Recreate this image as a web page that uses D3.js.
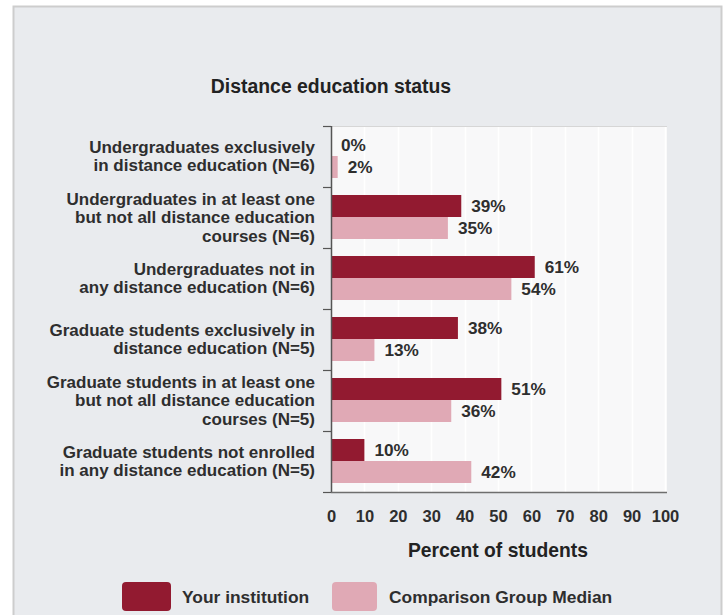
<!DOCTYPE html>
<html>
<head>
<meta charset="utf-8">
<script src="https://cdn.jsdelivr.net/npm/d3@7"></script>
<style>
  html, body { margin: 0; padding: 0; background: #ffffff; }
  svg { display: block; font-family: "Liberation Sans", Arial, sans-serif; }
</style>
</head>
<body>
<svg id="chart" width="726" height="615"></svg>
<script>
// ---- data ----
const categories = [
  "Undergraduates exclusively|in distance education (N=6)",
  "Undergraduates in at least one|but not all distance education|courses (N=6)",
  "Undergraduates not in|any distance education (N=6)",
  "Graduate students exclusively in|distance education (N=5)",
  "Graduate students in at least one|but not all distance education|courses (N=5)",
  "Graduate students not enrolled|in any distance education (N=5)"
];
const yourInstitution = [0, 39, 61, 38, 51, 10];
const comparisonMedian = [2, 35, 54, 13, 36, 42];
const seriesNames = ["Your institution", "Comparison Group Median"];
const xTicks = [0, 10, 20, 30, 40, 50, 60, 70, 80, 90, 100];
const chartTitle = "Distance education status";
const xAxisTitle = "Percent of students";

// ---- styles ----
const darkColor = "#921a30";
const lightColor = "#e0a9b5";
const textColor = "#2e2e2e";

const svg = d3.select("#chart");

// panel
svg.append("rect")
  .attr("x", 13.5).attr("y", 6.5).attr("width", 708).attr("height", 640)
  .attr("fill", "#e9ebee").attr("stroke", "#cdcdcd").attr("stroke-width", 2);

const plot = { left: 331, right: 665, top: 126, bottom: 492 };

const x = d3.scaleLinear().domain([0, 100]).range([plot.left, plot.right]);
const y = d3.scaleBand().domain(d3.range(categories.length)).range([plot.top, plot.bottom]).padding(0);
const inner = d3.scaleBand().domain([0, 1]).range([8, y.bandwidth() - 9]).padding(0);

// plot background
svg.append("rect")
  .attr("x", plot.left).attr("y", plot.top)
  .attr("width", plot.right - plot.left + 2).attr("height", plot.bottom - plot.top)
  .attr("fill", "#f8f8f9");
svg.append("line")
  .attr("x1", plot.left).attr("x2", plot.right + 2)
  .attr("y1", plot.top + 0.5).attr("y2", plot.top + 0.5)
  .attr("stroke", "#d6d6d6");

// faint gridlines
svg.append("g").selectAll("line").data(xTicks.slice(1)).join("line")
  .attr("x1", d => Math.round(x(d)) + 0.5).attr("x2", d => Math.round(x(d)) + 0.5)
  .attr("y1", plot.top + 1).attr("y2", plot.bottom)
  .attr("stroke", "#ffffff").attr("stroke-width", 1.5);

// title
svg.append("text")
  .attr("x", 331).attr("y", 86)
  .attr("text-anchor", "middle").attr("dominant-baseline", "central")
  .attr("font-size", 19.4).attr("font-weight", "bold").attr("fill", "#222")
  .text(chartTitle);

// bars
const series = [yourInstitution, comparisonMedian];
const colors = [darkColor, lightColor];
series.forEach((vals, si) => {
  const g = svg.append("g");
  g.selectAll("rect").data(vals).join("rect")
    .attr("x", x(0))
    .attr("y", (d, i) => y(i) + inner(si))
    .attr("width", d => x(d) - x(0))
    .attr("height", inner.bandwidth())
    .attr("fill", colors[si]);
  g.selectAll("text").data(vals).join("text")
    .attr("x", d => x(d) + 10)
    .attr("y", (d, i) => y(i) + inner(si) + inner.bandwidth() / 2)
    .attr("dominant-baseline", "central")
    .attr("font-size", 17.2).attr("font-weight", "bold").attr("fill", textColor)
    .text(d => d + "%");
});

// left axis
const yAxisG = svg.append("g");
yAxisG.append("line")
  .attr("x1", plot.left + 0.5).attr("x2", plot.left + 0.5)
  .attr("y1", plot.top).attr("y2", plot.bottom)
  .attr("stroke", "#555").attr("stroke-width", 1.5);
yAxisG.selectAll("line.tick").data(d3.range(categories.length + 1)).join("line")
  .attr("class", "tick")
  .attr("x1", plot.left - 8).attr("x2", plot.left)
  .attr("y1", d => (d < categories.length ? y(d) : plot.bottom) + 0.5)
  .attr("y2", d => (d < categories.length ? y(d) : plot.bottom) + 0.5)
  .attr("stroke", "#555").attr("stroke-width", 1.2);

// category labels
const lineH = 18.5;
categories.forEach((c, i) => {
  const lines = c.split("|");
  const cy = y(i) + y.bandwidth() / 2;
  const t = svg.append("text")
    .attr("text-anchor", "end")
    .attr("font-size", 17).attr("font-weight", "bold").attr("fill", textColor);
  lines.forEach((ln, k) => {
    t.append("tspan")
      .attr("x", 315)
      .attr("y", cy + (k - (lines.length - 1) / 2) * lineH)
      .attr("dominant-baseline", "central")
      .text(ln);
  });
});

// bottom axis
const xAxis = d3.axisBottom(x).tickValues(xTicks).tickSize(0).tickPadding(18);
const xg = svg.append("g").attr("transform", `translate(0,${plot.bottom})`).call(xAxis);
xg.select(".domain").attr("stroke", "#6e6e6e").attr("stroke-width", 1.5)
  .attr("d", `M${plot.left},0.5H${plot.right + 2}`);
xg.selectAll(".tick text")
  .attr("font-size", 16.5).attr("font-weight", "bold").attr("fill", textColor)
  .attr("font-family", "'Liberation Sans', Arial, sans-serif")
  .attr("dy", "0.32em").attr("y", 25);

// axis title
svg.append("text")
  .attr("x", 498).attr("y", 550)
  .attr("text-anchor", "middle").attr("dominant-baseline", "central")
  .attr("font-size", 19.3).attr("font-weight", "bold").attr("fill", "#222")
  .text(xAxisTitle);

// legend
const legendItems = [
  { name: seriesNames[0], color: darkColor, x: 122, w: 49, tx: 182 },
  { name: seriesNames[1], color: lightColor, x: 332, w: 45, tx: 389 }
];
legendItems.forEach(it => {
  svg.append("rect")
    .attr("x", it.x).attr("y", 582).attr("width", it.w).attr("height", 29)
    .attr("rx", 4).attr("fill", it.color);
  svg.append("text")
    .attr("x", it.tx).attr("y", 597)
    .attr("dominant-baseline", "central")
    .attr("font-size", 17.4).attr("font-weight", "bold").attr("fill", textColor)
    .text(it.name);
});
</script>
</body>
</html>
